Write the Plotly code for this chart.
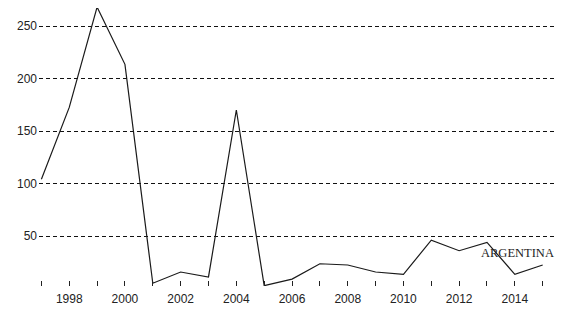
import plotly.graph_objects as go

years = list(range(1997, 2016))
values = [104, 172.5, 268, 213.5, 5, 15.7, 11, 170, 2.7, 9, 23.6, 22.4, 15.7, 13.5, 46, 36, 44, 13.5, 22.4]
x_ticks = [1998, 2000, 2002, 2004, 2006, 2008, 2010, 2012, 2014]
y_ticks = [50, 100, 150, 200, 250]
label = "ARGENTINA"

fig = go.Figure()
fig.add_trace(go.Scatter(x=years, y=values, mode="lines",
                         line=dict(color="#1a1a1a", width=1.2),
                         cliponaxis=False, showlegend=False, hoverinfo="skip"))

fig.add_annotation(text=label, xref="paper", yref="paper", x=0.9247, y=0.119,
                   showarrow=False, xanchor="center", yanchor="middle",
                   font=dict(family="Liberation Serif", size=12.5, color="#222"))

# page body has an 8px margin, so the figure is sized/offset to compensate
fig.update_layout(
    width=571, height=313,
    margin=dict(l=31, r=22, t=0, b=35),
    paper_bgcolor="white", plot_bgcolor="white",
    font=dict(family="Liberation Sans", size=12, color="#222"),
    xaxis=dict(range=[1996.914, 2015.514], tickvals=years,
               ticktext=[str(y) if y in x_ticks else "" for y in years],
               ticks="inside", ticklen=5, tickwidth=1, tickcolor="#222",
               showgrid=False, zeroline=False, showline=False, automargin=False,
               ticklabelstandoff=4),
    yaxis=dict(range=[2.4, 267.14], tickvals=y_ticks, ticks="",
               showgrid=True, gridcolor="#111", gridwidth=1, griddash="4px,3px",
               zeroline=False, showline=False, ticklabelstandoff=1, automargin=False),
)
fig.write_html("out.html")
